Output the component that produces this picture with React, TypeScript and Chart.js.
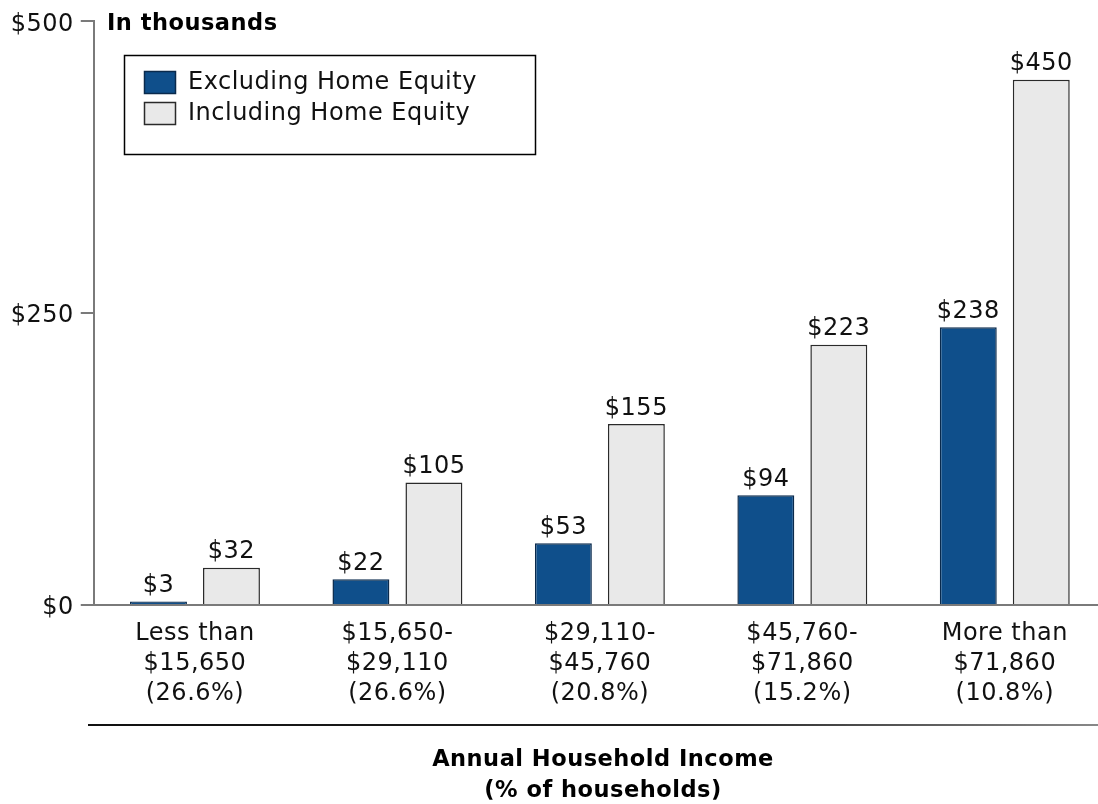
import React, { useEffect, useRef } from "react";
import { Chart, registerables } from "chart.js";

Chart.register(...registerables);

const categories: string[][] = [
  ["Less than", "$15,650", "(26.6%)"],
  ["$15,650-", "$29,110", "(26.6%)"],
  ["$29,110-", "$45,760", "(20.8%)"],
  ["$45,760-", "$71,860", "(15.2%)"],
  ["More than", "$71,860", "(10.8%)"],
];
const excludingHomeEquity = [3, 22, 53, 94, 238];
const includingHomeEquity = [32, 105, 155, 223, 450];
const yTickValues = [0, 250, 500];
const seriesNames = ["Excluding Home Equity", "Including Home Equity"];
const unitLabel = "In thousands";
const axisTitle = ["Annual Household Income", "(% of households)"];

const BLUE = "#0f4f8b";
const BLUE_BORDER = "#0a2a4c";
const GRAY = "#e9e9e9";
const GRAY_BORDER = "#2a2a2a";
const FONT = "'DejaVu Sans', Verdana, sans-serif";

const annotations = {
  id: "annotations",
  beforeDraw(chart: any) {
    chart.ctx.letterSpacing = "0.5px";
  },
  afterDatasetsDraw(chart: any) {
    const ctx = chart.ctx;
    ctx.save();
    ctx.fillStyle = "#111";
    ctx.font = `24px ${FONT}`;
    ctx.textAlign = "center";
    ctx.textBaseline = "alphabetic";
    chart.data.datasets.forEach((ds: any, di: number) => {
      const meta = chart.getDatasetMeta(di);
      meta.data.forEach((bar: any, i: number) => {
        ctx.fillText("$" + ds.data[i], bar.x, bar.y - 9.5);
      });
    });
    ctx.restore();
  },
  afterDraw(chart: any) {
    const ctx = chart.ctx;
    ctx.save();
    // unit label
    ctx.fillStyle = "#000";
    ctx.font = `bold 22.5px ${FONT}`;
    ctx.textAlign = "left";
    ctx.textBaseline = "middle";
    ctx.fillText(unitLabel, 107, 24);
    // legend box
    ctx.fillStyle = "#fff";
    ctx.fillRect(124, 55, 412, 100);
    ctx.strokeStyle = "#000";
    ctx.lineWidth = 1.5;
    ctx.strokeRect(124.5, 55.5, 411, 99);
    const sw = [
      { fill: BLUE, border: BLUE_BORDER, y: 71 },
      { fill: GRAY, border: GRAY_BORDER, y: 102 },
    ];
    sw.forEach((s, i) => {
      ctx.fillStyle = s.fill;
      ctx.fillRect(144, s.y, 32, 23);
      ctx.strokeStyle = s.border;
      ctx.lineWidth = 1.5;
      ctx.strokeRect(144.5, s.y + 0.5, 31, 22);
      ctx.fillStyle = "#111";
      ctx.font = `24px ${FONT}`;
      ctx.textAlign = "left";
      ctx.textBaseline = "middle";
      ctx.fillText(seriesNames[i], 188, s.y + 12);
    });
    // rule
    const grad = ctx.createLinearGradient(88, 0, 1098, 0);
    grad.addColorStop(0, "#111");
    grad.addColorStop(0.6, "#222");
    grad.addColorStop(1, "#888");
    ctx.strokeStyle = grad;
    ctx.lineWidth = 2;
    ctx.beginPath();
    ctx.moveTo(88, 725);
    ctx.lineTo(1098, 725);
    ctx.stroke();
    // axis title
    ctx.fillStyle = "#000";
    ctx.font = `bold 22.5px ${FONT}`;
    ctx.textAlign = "center";
    ctx.textBaseline = "middle";
    ctx.fillText(axisTitle[0], 603, 760);
    ctx.fillText(axisTitle[1], 603, 791);
    ctx.restore();
  },
};

export default function App() {
  const ref = useRef<HTMLCanvasElement>(null);
  useEffect(() => {
    const chart = new Chart(ref.current!, {
      type: "bar",
      data: {
        labels: categories,
        datasets: [
          {
            label: seriesNames[0],
            data: excludingHomeEquity,
            backgroundColor: BLUE,
            borderColor: BLUE_BORDER,
            borderWidth: 1.5,
            categoryPercentage: 0.721,
            barPercentage: 0.78,
          },
          {
            label: seriesNames[1],
            data: includingHomeEquity,
            backgroundColor: GRAY,
            borderColor: GRAY_BORDER,
            borderWidth: 1.5,
            categoryPercentage: 0.721,
            barPercentage: 0.78,
          },
        ],
      },
      options: {
        responsive: false,
        animation: false,
        layout: { padding: { top: 18, right: 4, left: 0, bottom: 0 } },
        plugins: { legend: { display: false }, tooltip: { enabled: false } },
        scales: {
          x: {
            grid: { display: false, drawTicks: false },
            border: { color: "#7a7a7a", width: 2 },
            ticks: {
              color: "#111",
              font: { family: FONT, size: 24, lineHeight: 1.25 },
              padding: 14,
              maxRotation: 0,
              autoSkip: false,
            },
            afterFit: (s: any) => {
              s.height = 199;
            },
          },
          y: {
            min: 0,
            max: 500,
            afterBuildTicks: (s: any) => {
              s.ticks = yTickValues.map((v) => ({ value: v }));
            },
            grid: {
              drawOnChartArea: false,
              drawTicks: true,
              tickLength: 13,
              color: "#7a7a7a",
              lineWidth: 2,
            },
            border: { color: "#7a7a7a", width: 2 },
            ticks: {
              color: "#111",
              font: { family: FONT, size: 24 },
              padding: 7,
              labelOffset: 3,
              callback: (v: any) => "$" + v,
            },
            afterFit: (s: any) => {
              s.width = 93.75;
            },
          },
        },
      },
      plugins: [annotations],
    });
    return () => chart.destroy();
  }, []);
  return (
    <div
      style={{
        position: "fixed",
        left: 0,
        top: 0,
        width: 1098,
        height: 804,
        overflow: "hidden",
        background: "#fff",
      }}
    >
      <canvas ref={ref} width={1110} height={804} style={{ display: "block" }} />
    </div>
  );
}
